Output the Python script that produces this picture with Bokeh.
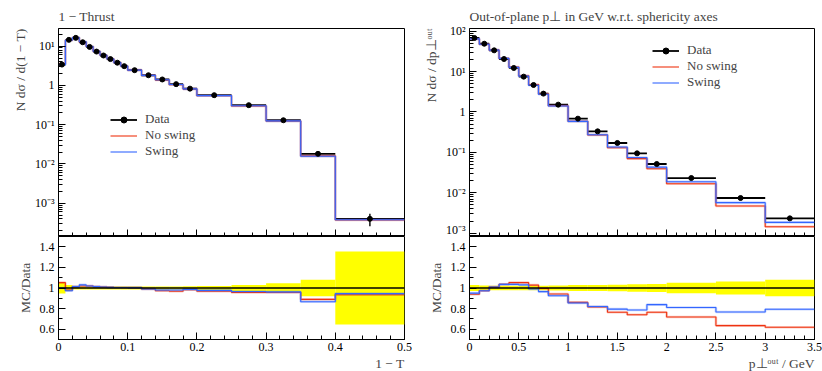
from bokeh.plotting import figure
from bokeh.layouts import row, column
from bokeh.models import (FixedTicker, CustomJSTickFormatter, Span, Legend, LegendItem,
                          Title, Range1d)
from bokeh.embed import file_html
from bokeh.resources import INLINE

FONT = "Liberation Serif"
RED = "#EE3311"
BLUE = "#3366FF"
YELLOW = "#FFFF00"

# ---------------- 1 - Thrust ----------------
thr_edges = [0, 0.01, 0.02, 0.03, 0.04, 0.05, 0.06, 0.07, 0.08, 0.09, 0.10,
             0.12, 0.14, 0.16, 0.18, 0.20, 0.25, 0.30, 0.35, 0.40, 0.50]
thr_data = [3.4, 14.5, 16.3, 12.6, 9.6, 7.3, 5.8, 4.7, 3.8, 3.1, 2.45,
            1.82, 1.42, 1.08, 0.83, 0.565, 0.314, 0.130, 0.0181, 0.0004]
thr_relerr = [0.053, 0.03, 0.015, 0.015, 0.015, 0.015, 0.015, 0.015, 0.015, 0.015,
              0.015, 0.015, 0.015, 0.015, 0.018, 0.02, 0.028, 0.045, 0.081, 0.355]
thr_ratio_noswing = [1.052, 0.98, 1.013, 1.02, 1.02, 1.013, 1.01, 1.006, 1.005, 1.005,
                     1.004, 0.99, 0.974, 0.968, 0.984, 0.968, 0.958, 0.956, 0.89, 0.935]
thr_ratio_swing = [1.0, 0.974, 1.013, 1.03, 1.02, 1.013, 1.01, 1.006, 1.005, 1.005,
                   1.004, 0.99, 0.98, 0.98, 0.987, 0.977, 0.966, 0.962, 0.867, 0.945]
thr_xticks = [0, 0.1, 0.2, 0.3, 0.4, 0.5]

# ---------------- pT out ----------------
pout_edges = [0, 0.1, 0.2, 0.3, 0.4, 0.5, 0.6, 0.7, 0.8, 1.0, 1.2, 1.4, 1.6,
              1.8, 2.0, 2.5, 3.0, 3.5]
pout_data = [68, 49, 33.6, 20.5, 12.3, 7.5, 4.66, 2.85, 1.52, 0.684, 0.332,
             0.171, 0.0948, 0.0516, 0.0232, 0.00743, 0.00233]
pout_relerr = [0.029, 0.025, 0.022, 0.022, 0.022, 0.022, 0.022, 0.022, 0.025,
               0.028, 0.03, 0.032, 0.037, 0.04, 0.05, 0.062, 0.08]
pout_ratio_noswing = [0.94, 0.974, 1.01, 1.035, 1.052, 1.052, 1.028, 0.995, 0.942,
                      0.86, 0.815, 0.764, 0.741, 0.764, 0.719, 0.635, 0.619]
pout_ratio_swing = [0.95, 0.974, 1.01, 1.035, 1.035, 1.03, 0.99, 0.965, 0.925,
                    0.855, 0.82, 0.795, 0.786, 0.839, 0.81, 0.767, 0.794]
pout_xticks = [0, 0.5, 1, 1.5, 2, 2.5, 3, 3.5]

log_major = [1e-3, 1e-2, 1e-1, 1, 10, 100]
ratio_major = [0.6, 0.8, 1.0, 1.2, 1.4]

LOG_FMT = CustomJSTickFormatter(code="""
const e = Math.round(Math.log10(tick));
if (e === 0) return "1";
const sup = {"-": "\u207b", "0": "\u2070", "1": "\u00b9", "2": "\u00b2", "3": "\u00b3",
             "4": "\u2074", "5": "\u2075", "6": "\u2076", "7": "\u2077", "8": "\u2078", "9": "\u2079"};
return "10" + String(e).split("").map(c => sup[c]).join("");
""")
RATIO_FMT = CustomJSTickFormatter(code="""
return Math.abs(tick - 1) < 1e-6 ? "1" : tick.toFixed(1);
""")
X_FMT = CustomJSTickFormatter(code="return String(Math.round(tick*1000)/1000);")
EMPTY_FMT = CustomJSTickFormatter(code="return '';")


def style_axes(p):
    p.grid.visible = False
    p.outline_line_color = "black"
    p.outline_line_width = 1
    p.background_fill_color = "white"
    p.border_fill_color = "white"
    for ax in p.axis:
        ax.axis_line_color = "black"
        ax.major_tick_in = 7
        ax.major_tick_out = 0
        ax.minor_tick_in = 4
        ax.minor_tick_out = 0
        ax.major_tick_line_color = "black"
        ax.minor_tick_line_color = "black"
        ax.major_label_text_font = FONT
        ax.major_label_text_font_size = "12px"
        ax.major_label_text_color = "black"
        ax.major_label_standoff = 4


def make_panel(edges, data, relerr, r_ns, r_sw, ylog_range, xticks, xminor,
               border_left, border_right, fw, title, ylabel, xlabel, legend_loc):
    lo = edges[:-1]
    hi = edges[1:]
    ctr = [(a + b) / 2 for a, b in zip(lo, hi)]
    mc_ns = [d * r for d, r in zip(data, r_ns)]
    mc_sw = [d * r for d, r in zip(data, r_sw)]
    xr = Range1d(edges[0], edges[-1])

    # ---- main plot ----
    p = figure(frame_width=fw, frame_height=208, x_range=xr,
               y_range=Range1d(*ylog_range), y_axis_type="log",
               output_backend="svg", toolbar_location=None,
               min_border_left=border_left, min_border_right=border_right,
               min_border_top=28, min_border_bottom=0)
    p.title.text = title
    p.title.text_font = FONT
    p.title.text_font_size = "13.5px"
    p.title.text_font_style = "normal"
    p.title.align = "left"
    p.title.standoff = 9
    p.title.offset = 0

    sub_minor = []
    for e in range(-5, 3):
        for k in range(2, 10):
            sub_minor.append(k * 10.0 ** e)
    p.yaxis.ticker = FixedTicker(ticks=log_major, minor_ticks=sub_minor)
    p.yaxis.formatter = LOG_FMT
    p.xaxis.ticker = FixedTicker(ticks=xticks, minor_ticks=xminor)
    p.xaxis.formatter = EMPTY_FMT
    style_axes(p)
    p.xaxis.major_label_standoff = 0

    ns_vals = mc_ns + [mc_ns[-1]]
    sw_vals = mc_sw + [mc_sw[-1]]

    xe = p.segment(x0=lo, y0=data, x1=hi, y1=data, line_color="black", line_width=1.8)
    p.step(x=edges, y=ns_vals, mode="after", line_color=RED, line_width=2.6, line_alpha=0.25)
    r_red = p.step(x=edges, y=ns_vals, mode="after", line_color=RED, line_width=1.1)
    p.step(x=edges, y=sw_vals, mode="after", line_color=BLUE, line_width=2.6, line_alpha=0.25)
    r_blue = p.step(x=edges, y=sw_vals, mode="after", line_color=BLUE, line_width=1.1)
    y_lo = [d * (1 - e) for d, e in zip(data, relerr)]
    y_hi = [d * (1 + e) for d, e in zip(data, relerr)]
    p.segment(x0=ctr, y0=y_lo, x1=ctr, y1=y_hi, line_color="black", line_width=1.4)
    pts = p.scatter(ctr, data, size=5, color="black")

    leg = Legend(items=[LegendItem(label="Data", renderers=[xe, pts]),
                        LegendItem(label="No swing", renderers=[r_red]),
                        LegendItem(label="Swing", renderers=[r_blue])],
                 location=legend_loc, orientation="vertical",
                 label_text_font=FONT, label_text_font_size="13px",
                 glyph_width=27, glyph_height=15, label_height=15, spacing=0,
                 padding=0, margin=0, label_standoff=8,
                 background_fill_alpha=0, border_line_alpha=0)
    p.add_layout(leg, "center")
    p.add_layout(Title(text=ylabel, align="right", text_font=FONT,
                       text_font_size="13.5px", text_font_style="normal",
                       standoff=7), "left")

    # ---- ratio plot ----
    q = figure(frame_width=fw, frame_height=103, x_range=xr,
               y_range=Range1d(0.5, 1.5),
               output_backend="svg", toolbar_location=None,
               min_border_left=border_left, min_border_right=border_right,
               min_border_top=0, min_border_bottom=32)
    q.yaxis.ticker = FixedTicker(ticks=ratio_major, minor_ticks=[0.5, 0.7, 0.9, 1.1, 1.3, 1.5])
    q.yaxis.formatter = RATIO_FMT
    q.xaxis.ticker = FixedTicker(ticks=xticks, minor_ticks=xminor)
    q.xaxis.formatter = X_FMT
    style_axes(q)
    q.xaxis.major_label_standoff = 3
    q.quad(left=lo, right=hi, bottom=[1 - e for e in relerr], top=[1 + e for e in relerr],
           fill_color=YELLOW, line_color=None)
    q.add_layout(Span(location=1, dimension="width", line_color="black", line_width=1.3))
    rns = list(r_ns) + [r_ns[-1]]
    rsw = list(r_sw) + [r_sw[-1]]
    q.step(x=edges, y=rns, mode="after", line_color=RED, line_width=2.6, line_alpha=0.25)
    q.step(x=edges, y=rns, mode="after", line_color=RED, line_width=1.1)
    q.step(x=edges, y=rsw, mode="after", line_color=BLUE, line_width=2.6, line_alpha=0.25)
    q.step(x=edges, y=rsw, mode="after", line_color=BLUE, line_width=1.1)
    q.add_layout(Title(text="MC/Data", align="center", text_font=FONT,
                       text_font_size="13.5px", text_font_style="normal",
                       standoff=7), "left")
    q.add_layout(Title(text=xlabel, align="right", text_font=FONT,
                       text_font_size="13.5px", text_font_style="normal",
                       standoff=0, offset=0), "below")
    return column(p, q, spacing=0)


left = make_panel(thr_edges, thr_data, thr_relerr, thr_ratio_noswing, thr_ratio_swing,
                  (10 ** -3.848, 10 ** 1.451), thr_xticks,
                  [round(0.02 * i, 2) for i in range(26)], 58, 14, 346,
                  "1 \u2212 Thrust", "N d\u03c3 / d(1 \u2212 T)", "1 \u2212 T", (52, 77))
right = make_panel(pout_edges, pout_data, pout_relerr, pout_ratio_noswing, pout_ratio_swing,
                   (10 ** -3.082, 10 ** 2.067), pout_xticks,
                   [round(0.1 * i, 1) for i in range(36)], 50, 9, 345,
                   "Out-of-plane p\u22a5 in GeV w.r.t. sphericity axes",
                   "N d\u03c3 / dp\u22a5\u1d52\u1d58\u1d57", "p\u22a5\u1d52\u1d58\u1d57 / GeV", (183, 146))

layout = row(left, right, spacing=0)
open("out.html", "w").write(file_html(layout, INLINE))
